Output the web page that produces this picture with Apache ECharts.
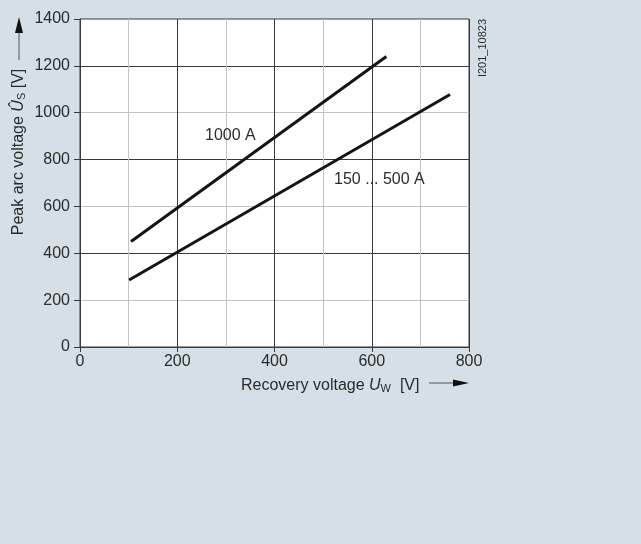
<!DOCTYPE html>
<html>
<head>
<meta charset="utf-8">
<script src="https://cdn.jsdelivr.net/npm/echarts@6/dist/echarts.min.js"></script>
<style>
html,body{margin:0;padding:0;background:#d5dfe5;}
#c{width:641px;height:544px;}
</style>
</head>
<body>
<div id="c"></div>
<script>
// Data
const xTicks = [0, 200, 400, 600, 800];
const yTicks = [0, 200, 400, 600, 800, 1000, 1200, 1400];
const curve1000A_x = [105, 630];
const curve1000A_y = [450, 1240];
const curve150_500A_x = [101, 761];
const curve150_500A_y = [286, 1078];
const seriesNames = ['1000 A', '150 ... 500 A'];

const FONT = 'Liberation Sans, Arial, sans-serif';
const TXT = '#2b2b2b';
const DARK = '#3a3a3a';
const LIGHT = '#c4c4c4';

const chart = echarts.init(document.getElementById('c'), null, {renderer: 'canvas'});

function pairs(xs, ys) { return xs.map((x, i) => [x, ys[i]]); }
const plain = v => String(v);

const option = {
  backgroundColor: '#d5dfe5',
  animation: false,
  grid: {
    left: 80, top: 19, right: 172, bottom: 197,
    show: true, backgroundColor: '#ffffff', borderColor: DARK, borderWidth: 1
  },
  xAxis: {
    type: 'value', min: xTicks[0], max: xTicks[xTicks.length - 1], interval: 200,
    axisLine: {show: true, lineStyle: {color: DARK, width: 1}},
    axisTick: {show: true, length: 5, lineStyle: {color: DARK}},
    axisLabel: {color: TXT, fontSize: 16, fontFamily: FONT, margin: 7, formatter: plain},
    splitLine: {show: true, lineStyle: {color: DARK, width: 1}},
    minorTick: {show: false, splitNumber: 2},
    minorSplitLine: {show: true, lineStyle: {color: LIGHT, width: 1}}
  },
  yAxis: {
    type: 'value', min: yTicks[0], max: yTicks[yTicks.length - 1], interval: 200,
    axisLine: {show: true, lineStyle: {color: DARK, width: 1}},
    axisTick: {show: true, length: 6, lineStyle: {color: DARK}},
    axisLabel: {color: TXT, fontSize: 16, fontFamily: FONT, margin: 10, formatter: plain},
    splitLine: {show: true, showMaxLine: false, lineStyle: {color: [DARK, LIGHT], width: 1}}
  },
  series: [
    {
      name: seriesNames[0], type: 'line', data: pairs(curve1000A_x, curve1000A_y),
      showSymbol: false, symbol: 'none', lineStyle: {color: '#151515', width: 3}, z: 5
    },
    {
      name: seriesNames[1], type: 'line', data: pairs(curve150_500A_x, curve150_500A_y),
      showSymbol: false, symbol: 'none', lineStyle: {color: '#151515', width: 3}, z: 5
    }
  ],
  graphic: [
    {type: 'text', left: 205, top: 128, z: 10,
     style: {text: seriesNames[0], fill: TXT, font: '16px ' + FONT}},
    {type: 'text', left: 334, top: 172, z: 10,
     style: {text: seriesNames[1], fill: TXT, font: '16px ' + FONT}},
    // y axis title (rotated)
    {type: 'text', x: 19, y: 152, rotation: Math.PI / 2, z: 10,
     style: {
       text: '{n|Peak arc voltage }{i|Û}{s|S}{n| [V]}',
       align: 'center', verticalAlign: 'middle',
       rich: {
         n: {fontSize: 16, fontFamily: FONT, fill: TXT, color: TXT},
         i: {fontSize: 16, fontFamily: FONT, fontStyle: 'italic', fill: TXT, color: TXT},
         s: {fontSize: 11, fontFamily: FONT, fill: TXT, color: TXT, verticalAlign: 'bottom', padding: [6, 0, 0, 0]}
       }
     }},
    // y arrow
    {type: 'line', z: 10, shape: {x1: 19, y1: 60, x2: 19, y2: 30}, style: {stroke: '#555', lineWidth: 1}},
    {type: 'polygon', z: 10, shape: {points: [[15, 33], [23, 33], [19, 17]]}, style: {fill: '#111'}},
    // x axis title
    {type: 'text', x: 241, y: 386, z: 10,
     style: {
       text: '{n|Recovery voltage }{i|U}{s|W}{n|  [V]}',
       align: 'left', verticalAlign: 'middle',
       rich: {
         n: {fontSize: 16, fontFamily: FONT, fill: TXT, color: TXT},
         i: {fontSize: 16, fontFamily: FONT, fontStyle: 'italic', fill: TXT, color: TXT},
         s: {fontSize: 11, fontFamily: FONT, fill: TXT, color: TXT, verticalAlign: 'bottom', padding: [6, 0, 0, 0]}
       }
     }},
    // x arrow
    {type: 'line', z: 10, shape: {x1: 429, y1: 383, x2: 456, y2: 383}, style: {stroke: '#555', lineWidth: 1}},
    {type: 'polygon', z: 10, shape: {points: [[453, 379.5], [453, 386.5], [469, 383]]}, style: {fill: '#111'}},
    // figure id
    {type: 'text', x: 483, y: 48, rotation: Math.PI / 2, z: 10,
     style: {text: 'I201_10823', align: 'center', verticalAlign: 'middle', fill: TXT, font: '11px ' + FONT}}
  ]
};
chart.setOption(option);
</script>
</body>
</html>
